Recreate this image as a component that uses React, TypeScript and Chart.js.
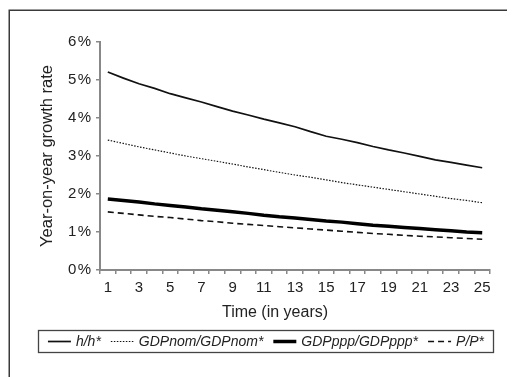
import React, { useEffect, useRef } from "react";
import { Chart, registerables } from "chart.js";

Chart.register(...registerables);

const years = ["1","2","3","4","5","6","7","8","9","10","11","12","13","14","15","16","17","18","19","20","21","22","23","24","25"];

const hRatio = [5.21,5.05,4.90,4.78,4.64,4.53,4.42,4.30,4.18,4.08,3.97,3.87,3.77,3.64,3.52,3.44,3.35,3.25,3.16,3.08,2.99,2.90,2.83,2.76,2.69];
const gdpNomRatio = [3.42,3.33,3.24,3.16,3.08,3.00,2.93,2.86,2.79,2.71,2.64,2.57,2.50,2.44,2.37,2.30,2.24,2.18,2.12,2.06,2.00,1.94,1.88,1.83,1.77];
const gdpPppRatio = [1.87,1.83,1.79,1.74,1.70,1.66,1.61,1.57,1.53,1.49,1.44,1.40,1.37,1.33,1.29,1.26,1.22,1.18,1.15,1.12,1.09,1.06,1.03,1.00,0.98];
const priceRatio = [1.53,1.49,1.45,1.41,1.38,1.34,1.30,1.27,1.23,1.20,1.17,1.14,1.11,1.08,1.05,1.02,0.99,0.96,0.94,0.91,0.89,0.87,0.85,0.83,0.81];

const seriesLabels = ["h/h*", "GDPnom/GDPnom*", "GDPppp/GDPppp*", "P/P*"];
const yTicks = [0, 1, 2, 3, 4, 5, 6];
const xTitle = "Time (in years)";
const yTitle = "Year-on-year growth rate";

const FONT = "'Liberation Sans', Arial, Helvetica, sans-serif";

const decorPlugin = {
  id: "decor",
  afterDraw(chart: any) {
    const ctx: CanvasRenderingContext2D = chart.ctx;
    ctx.save();
    // outer frame: left and top edges
    ctx.strokeStyle = "#3a3a3a";
    ctx.lineWidth = 1.5;
    ctx.setLineDash([]);
    ctx.beginPath();
    ctx.moveTo(1.25, chart.height + 10);
    ctx.lineTo(1.25, 2.25);
    ctx.lineTo(chart.width, 2.25);
    ctx.stroke();

    // x axis title (offset from plot centre as in the reference)
    ctx.fillStyle = "#222";
    ctx.font = `16px ${FONT}`;
    ctx.textAlign = "center";
    ctx.textBaseline = "alphabetic";
    ctx.fillText(xTitle, 267, 309);

    // legend box
    const boxX = 30.5, boxY = 322.5, boxW = 455, boxH = 22;
    ctx.strokeStyle = "#444";
    ctx.lineWidth = 1.3;
    ctx.strokeRect(boxX, boxY, boxW, boxH);

    ctx.font = `italic 14px ${FONT}`;
    const sampleLen = 23;
    const gapST = 5;
    const gapItems = 10;
    const datasets = chart.data.datasets;
    const widths = datasets.map((d: any) => ctx.measureText(d.label).width);
    let total = 0;
    widths.forEach((w: number) => (total += sampleLen + gapST + w));
    total += gapItems * (datasets.length - 1);
    let x = boxX + (boxW - total) / 2;
    const cy = boxY + boxH / 2;
    datasets.forEach((d: any, i: number) => {
      ctx.strokeStyle = d.borderColor;
      ctx.lineWidth = d.borderWidth;
      ctx.setLineDash(d.borderDash || []);
      ctx.beginPath();
      ctx.moveTo(x, cy);
      ctx.lineTo(x + sampleLen, cy);
      ctx.stroke();
      ctx.setLineDash([]);
      x += sampleLen + gapST;
      ctx.fillStyle = "#222";
      ctx.textAlign = "left";
      ctx.textBaseline = "middle";
      ctx.fillText(d.label, x, cy + 0.5);
      x += widths[i] + gapItems;
    });
    ctx.restore();
  },
};

export default function App() {
  const ref = useRef<HTMLCanvasElement | null>(null);
  useEffect(() => {
    document.body.style.overflow = "hidden";
    const canvas = ref.current;
    if (!canvas) return;
    const chart = new Chart(canvas, {
      type: "line",
      data: {
        labels: years,
        datasets: [
          { label: seriesLabels[0], data: hRatio, borderColor: "#111", borderWidth: 1.7, pointRadius: 0, fill: false },
          { label: seriesLabels[1], data: gdpNomRatio, borderColor: "#111", borderWidth: 1.2, borderDash: [1.5, 1.5], pointRadius: 0, fill: false },
          { label: seriesLabels[2], data: gdpPppRatio, borderColor: "#000", borderWidth: 3.5, pointRadius: 0, fill: false },
          { label: seriesLabels[3], data: priceRatio, borderColor: "#111", borderWidth: 1.6, borderDash: [6, 4], pointRadius: 0, fill: false },
        ],
      },
      options: {
        responsive: false,
        animation: false,
        layout: { padding: { left: 26, top: 34, right: 17, bottom: 78 } },
        plugins: { legend: { display: false }, tooltip: { enabled: false } },
        scales: {
          x: {
            type: "category",
            offset: true,
            afterFit: (s: any) => { s.height = 40; },
            grid: { offset: true, drawOnChartArea: false, drawTicks: true, tickLength: 4, color: "#888", lineWidth: 1.5 },
            border: { color: "#888", width: 2 },
            ticks: {
              autoSkip: false,
              maxRotation: 0,
              padding: 5,
              color: "#222",
              font: { family: FONT, size: 15 },
              callback: (_v: any, i: number) => (i % 2 === 0 ? years[i] : ""),
            },
          },
          y: {
            min: 0,
            max: 6,
            afterFit: (s: any) => { s.width = 66; },
            afterBuildTicks: (s: any) => { s.ticks = yTicks.map((v) => ({ value: v })); },
            grid: { drawOnChartArea: false, drawTicks: true, tickLength: 4, color: "#888", lineWidth: 1.5 },
            border: { color: "#888", width: 2 },
            ticks: {
              padding: 5,
              color: "#222",
              font: { family: FONT, size: 15 },
              callback: (v: any) => `${v}\u200A%`,
            },
            title: { display: true, text: yTitle, color: "#222", font: { family: FONT, size: 16.5 }, padding: { top: 4, bottom: 0 } },
          },
        },
      },
      plugins: [decorPlugin],
    });
    return () => chart.destroy();
  }, []);
  return <canvas ref={ref} width={499} height={380} style={{ display: "block", width: 499, height: 380 }} />;
}
